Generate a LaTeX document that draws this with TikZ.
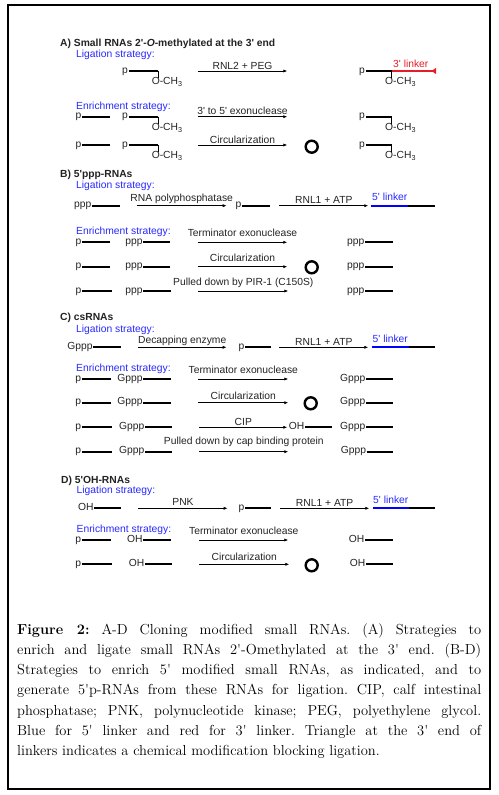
\documentclass[tikz,border=0pt]{standalone}
\usepackage{fontspec}
\setsansfont{Liberation Sans}[Ligatures=TeXOff]
\usetikzlibrary{arrows.meta}

\definecolor{ligblue}{RGB}{40,40,255}
\definecolor{linkred}{RGB}{228,30,40}
\definecolor{ink}{RGB}{35,35,35}

\begin{document}
\begin{tikzpicture}[x=1pt, y=-1pt,
    font=\sffamily\fontsize{10.3}{12}\selectfont, text=ink,
    strand/.style={line width=2.2pt},
    tick/.style={line width=0.8pt},
    rxn/.style={-{Latex[length=4pt,width=3.2pt]}, line width=0.8pt},
    lab/.style={midway, anchor=base, inner sep=0pt},
    tag/.style={anchor=east, inner sep=0.5pt, text height=6pt, text depth=1.5pt},
    meth/.style={anchor=north west, inner sep=0pt},
    head/.style={anchor=base west, inner sep=0pt, font=\sffamily\bfseries\fontsize{10.3}{12}\selectfont},
    hint/.style={anchor=base west, inner sep=0pt, text=ligblue},
    ring/.style={circle, draw, line width=2.4pt, minimum size=12pt, inner sep=0pt}]

    \useasboundingbox (0,0) rectangle (498,795);
    \draw[line width=1.3pt] (8,5) rectangle (490,789);

    % A) 2'-O-methylated
    \node[head] (headA) at (60,46.6) {A) Small RNAs 2'-\textit{O}-methylated at the 3' end};
    \node[hint] (ligA) at (76,57.2) {Ligation strategy:};

    \node[tag] (a1in) at (128.5,71) {p};
    \coordinate (a1e) at (158.3,71);
    \node[meth] (a1m) at (151.6,77.5) {O-CH\textsubscript{3}};
    \draw[strand] (a1in) -- (a1e);
    \draw[tick] (a1e) -- (a1e |- a1m.north);
    \coordinate (a1s) at (197.7,71);
    \coordinate (a1t) at (287.3,71);
    \draw[rxn] (a1s) -- (a1t) node[lab, yshift=1.7pt] {RNL2 + PEG};
    \node[tag] (a1out) at (365.5,71) {p};
    \coordinate (a1j) at (391.7,71);
    \coordinate (a1k) at (436,71);
    \node[meth] (a1n) at (385,77.5) {O-CH\textsubscript{3}};
    \draw[strand] (a1out) -- (a1j);
    \draw[strand, draw=linkred, -{Latex[reversed, length=5.5pt, width=6.5pt]}] (a1j) -- (a1k);
    \draw[tick] (a1j) -- (a1j |- a1n.north);
    \node[anchor=base west, inner sep=0pt, text=linkred] (a1lk) at (393,67.7) {3' linker};

    \node[hint] (enrA) at (76,109.5) {Enrichment strategy:};

    \node[tag] (a2p) at (82,116.7) {p};
    \coordinate (a2pe) at (110,116.7);
    \draw[strand] (a2p) -- (a2pe);
    \node[tag] (a2in) at (128.5,116.7) {p};
    \coordinate (a2e) at (158.3,116.7);
    \node[meth] (a2m) at (151.6,123.5) {O-CH\textsubscript{3}};
    \draw[strand] (a2in) -- (a2e);
    \draw[tick] (a2e) -- (a2e |- a2m.north);
    \coordinate (a2s) at (197.7,116.7);
    \coordinate (a2t) at (287.3,116.7);
    \draw[rxn] (a2s) -- (a2t) node[lab, yshift=2.7pt] {3' to 5' exonuclease};
    \node[tag] (a2out) at (365.5,116.7) {p};
    \coordinate (a2j) at (391.7,116.7);
    \node[meth] (a2n) at (385,123.5) {O-CH\textsubscript{3}};
    \draw[strand] (a2out) -- (a2j);
    \draw[tick] (a2j) -- (a2j |- a2n.north);

    \node[tag] (a3p) at (82,145) {p};
    \coordinate (a3pe) at (110,145);
    \draw[strand] (a3p) -- (a3pe);
    \node[tag] (a3in) at (128.5,145) {p};
    \coordinate (a3e) at (158.3,145);
    \node[meth] (a3m) at (151.6,151.5) {O-CH\textsubscript{3}};
    \draw[strand] (a3in) -- (a3e);
    \draw[tick] (a3e) -- (a3e |- a3m.north);
    \coordinate (a3s) at (197.7,145);
    \coordinate (a3t) at (287.3,145);
    \draw[rxn] (a3s) -- (a3t) node[lab, yshift=1.3pt] {Circularization};
    \node[ring] (a3o) at (311.7,146.7) {};
    \node[tag] (a3out) at (365.5,145) {p};
    \coordinate (a3j) at (391.7,145);
    \node[meth] (a3n) at (385,151.5) {O-CH\textsubscript{3}};
    \draw[strand] (a3out) -- (a3j);
    \draw[tick] (a3j) -- (a3j |- a3n.north);

    % B) 5'ppp
    \node[head] (headB) at (60,177.2) {B) 5'ppp-RNAs};
    \node[hint] (ligB) at (76,188.2) {Ligation strategy:};

    \node[tag] (b1in) at (92,205.7) {ppp};
    \coordinate (b1e) at (120,205.7);
    \draw[strand] (b1in) -- (b1e);
    \coordinate (b1s) at (136.7,205.7);
    \coordinate (b1t) at (226.7,205.7);
    \draw[rxn] (b1s) -- (b1t) node[lab, yshift=4pt] {RNA polyphosphatase};
    \node[tag] (b1mid) at (242,205.7) {p};
    \coordinate (b1f) at (270,205.7);
    \draw[strand] (b1mid) -- (b1f);
    \coordinate (b1u) at (279.3,205.7);
    \coordinate (b1v) at (368.3,205.7);
    \draw[rxn] (b1u) -- (b1v) node[lab, yshift=2.4pt] {RNL1 + ATP};
    \coordinate (b1j) at (371,205.7);
    \coordinate (b1k) at (408.3,205.7);
    \coordinate (b1l) at (435,205.7);
    \draw[strand, draw=blue] (b1j) -- (b1k);
    \draw[strand] (b1k) -- (b1l);
    \node[hint] (b1lk) at (372,200.7) {5' linker};

    \node[hint] (enrB) at (76,234.6) {Enrichment strategy:};

    \node[tag] (b2p) at (82,242.3) {p};
    \coordinate (b2pe) at (110,242.3);
    \draw[strand] (b2p) -- (b2pe);
    \node[tag] (b2in) at (143.3,242.3) {ppp};
    \coordinate (b2e) at (170,242.3);
    \draw[strand] (b2in) -- (b2e);
    \coordinate (b2s) at (197.7,242.3);
    \coordinate (b2t) at (287.3,242.3);
    \draw[rxn] (b2s) -- (b2t) node[lab, yshift=6pt] {Terminator exonuclease};
    \node[tag] (b2out) at (365,242.3) {ppp};
    \coordinate (b2oe) at (392.7,242.3);
    \draw[strand] (b2out) -- (b2oe);

    \node[tag] (b3p) at (82,266.7) {p};
    \coordinate (b3pe) at (110,266.7);
    \draw[strand] (b3p) -- (b3pe);
    \node[tag] (b3in) at (143.3,266.7) {ppp};
    \coordinate (b3e) at (170,266.7);
    \draw[strand] (b3in) -- (b3e);
    \coordinate (b3s) at (197.7,266.7);
    \coordinate (b3t) at (287.3,266.7);
    \draw[rxn] (b3s) -- (b3t) node[lab, yshift=5pt] {Circularization};
    \node[ring] (b3o) at (311.7,267.3) {};
    \node[tag] (b3out) at (365,266.7) {ppp};
    \coordinate (b3oe) at (392.7,266.7);
    \draw[strand] (b3out) -- (b3oe);

    \node[tag] (b4p) at (82,291) {p};
    \coordinate (b4pe) at (111.7,291);
    \draw[strand] (b4p) -- (b4pe);
    \node[tag] (b4in) at (143.3,291) {ppp};
    \coordinate (b4e) at (170.7,291);
    \draw[strand] (b4in) -- (b4e);
    \coordinate (b4s) at (198.3,291);
    \coordinate (b4t) at (288.3,291);
    \draw[rxn] (b4s) -- (b4t) node[lab, yshift=5.3pt] {Pulled down by PIR-1 (C150S)};
    \node[tag] (b4out) at (365,291) {ppp};
    \coordinate (b4oe) at (393.3,291);
    \draw[strand] (b4out) -- (b4oe);

    % C) csRNAs
    \node[head] (headC) at (60,320.5) {C) csRNAs};
    \node[hint] (ligC) at (76,332.2) {Ligation strategy:};

    \node[tag] (c1in) at (93.3,347.3) {Gppp};
    \coordinate (c1e) at (120.7,347.3);
    \draw[strand] (c1in) -- (c1e);
    \coordinate (c1s) at (137.7,347.3);
    \coordinate (c1t) at (226.7,347.3);
    \draw[rxn] (c1s) -- (c1t) node[lab, yshift=4pt] {Decapping enzyme};
    \node[tag] (c1mid) at (245,347.3) {p};
    \coordinate (c1f) at (270.7,347.3);
    \draw[strand] (c1mid) -- (c1f);
    \coordinate (c1u) at (279.3,347.3);
    \coordinate (c1v) at (368.3,347.3);
    \draw[rxn] (c1u) -- (c1v) node[lab, yshift=2pt] {RNL1 + ATP};
    \coordinate (c1j) at (371.7,347.3);
    \coordinate (c1k) at (409.3,347.3);
    \coordinate (c1l) at (435,347.3);
    \draw[strand, draw=blue] (c1j) -- (c1k);
    \draw[strand] (c1k) -- (c1l);
    \node[hint] (c1lk) at (372.5,342.3) {5' linker};

    \node[hint] (enrC) at (76,371.7) {Enrichment strategy:};

    \node[tag] (c2p) at (81.7,379) {p};
    \coordinate (c2pe) at (111,379);
    \draw[strand] (c2p) -- (c2pe);
    \node[tag] (c2in) at (143.3,379) {Gppp};
    \coordinate (c2e) at (170.7,379);
    \draw[strand] (c2in) -- (c2e);
    \coordinate (c2s) at (198.3,379);
    \coordinate (c2t) at (288.3,379);
    \draw[rxn] (c2s) -- (c2t) node[lab, yshift=5.7pt] {Terminator exonuclease};
    \node[tag] (c2out) at (366,379) {Gppp};
    \coordinate (c2oe) at (392.7,379);
    \draw[strand] (c2out) -- (c2oe);

    \node[tag] (c3p) at (81.7,402.7) {p};
    \coordinate (c3pe) at (111,402.7);
    \draw[strand] (c3p) -- (c3pe);
    \node[tag] (c3in) at (143.3,402.7) {Gppp};
    \coordinate (c3e) at (170.7,402.7);
    \draw[strand] (c3in) -- (c3e);
    \coordinate (c3s) at (198.3,402.7);
    \coordinate (c3t) at (288.3,402.7);
    \draw[rxn] (c3s) -- (c3t) node[lab, yshift=3.6pt] {Circularization};
    \node[ring] (c3o) at (310.7,403.3) {};
    \node[tag] (c3out) at (366,402.7) {Gppp};
    \coordinate (c3oe) at (392.7,402.7);
    \draw[strand] (c3out) -- (c3oe);

    \node[tag] (c4p) at (81.7,427.3) {p};
    \coordinate (c4pe) at (111.7,427.3);
    \draw[strand] (c4p) -- (c4pe);
    \node[tag] (c4in) at (145,427.3) {Gppp};
    \coordinate (c4e) at (171.7,427.3);
    \draw[strand] (c4in) -- (c4e);
    \coordinate (c4s) at (199.3,427.3);
    \coordinate (c4t) at (287.3,427.3);
    \draw[rxn] (c4s) -- (c4t) node[lab, yshift=1.8pt] {CIP};
    \node[tag] (c4oh) at (305,427.3) {OH};
    \coordinate (c4he) at (332.3,427.3);
    \draw[strand] (c4oh) -- (c4he);
    \node[tag] (c4out) at (366,427.3) {Gppp};
    \coordinate (c4oe) at (393.3,427.3);
    \draw[strand] (c4out) -- (c4oe);

    \node[tag] (c5p) at (81.7,451.7) {p};
    \coordinate (c5pe) at (111.7,451.7);
    \draw[strand] (c5p) -- (c5pe);
    \node[tag] (c5in) at (145,451.7) {Gppp};
    \coordinate (c5e) at (171.7,451.7);
    \draw[strand] (c5in) -- (c5e);
    \coordinate (c5s) at (199.3,451.7);
    \coordinate (c5t) at (288.3,451.7);
    \draw[rxn] (c5s) -- (c5t) node[lab, yshift=7.2pt] {Pulled down by cap binding protein};
    \node[tag] (c5out) at (366.7,451.7) {Gppp};
    \coordinate (c5oe) at (393.3,451.7);
    \draw[strand] (c5out) -- (c5oe);

    % D) 5'OH
    \node[head] (headD) at (61,483.2) {D) 5'OH-RNAs};
    \node[hint] (ligD) at (76.5,493.9) {Ligation strategy:};

    \node[tag] (d1in) at (94.3,508.3) {OH};
    \coordinate (d1e) at (121,508.3);
    \draw[strand] (d1in) -- (d1e);
    \coordinate (d1s) at (138.3,508.3);
    \coordinate (d1t) at (227.7,508.3);
    \draw[rxn] (d1s) -- (d1t) node[lab, yshift=3.3pt] {PNK};
    \node[tag] (d1mid) at (245,508.3) {p};
    \coordinate (d1f) at (270.7,508.3);
    \draw[strand] (d1mid) -- (d1f);
    \coordinate (d1u) at (280,508.3);
    \coordinate (d1v) at (369.3,508.3);
    \draw[rxn] (d1u) -- (d1v) node[lab, yshift=1.7pt] {RNL1 + ATP};
    \coordinate (d1j) at (372.7,508.3);
    \coordinate (d1k) at (409.3,508.3);
    \coordinate (d1l) at (435,508.3);
    \draw[strand, draw=blue] (d1j) -- (d1k);
    \draw[strand] (d1k) -- (d1l);
    \node[hint] (d1lk) at (373,503.3) {5' linker};

    \node[hint] (enrD) at (76.5,532.8) {Enrichment strategy:};

    \node[tag] (d2p) at (81.7,540) {p};
    \coordinate (d2pe) at (111,540);
    \draw[strand] (d2p) -- (d2pe);
    \node[tag] (d2in) at (143.3,540) {OH};
    \coordinate (d2e) at (171,540);
    \draw[strand] (d2in) -- (d2e);
    \coordinate (d2s) at (199.3,540);
    \coordinate (d2t) at (288.3,540);
    \draw[rxn] (d2s) -- (d2t) node[lab, yshift=5.7pt] {Terminator exonuclease};
    \node[tag] (d2out) at (365,540) {OH};
    \coordinate (d2oe) at (392.7,540);
    \draw[strand] (d2out) -- (d2oe);

    \node[tag] (d3p) at (81.7,564.3) {p};
    \coordinate (d3pe) at (111.7,564.3);
    \draw[strand] (d3p) -- (d3pe);
    \node[tag] (d3in) at (145,564.3) {OH};
    \coordinate (d3e) at (171.7,564.3);
    \draw[strand] (d3in) -- (d3e);
    \coordinate (d3s) at (199.3,564.3);
    \coordinate (d3t) at (289.3,564.3);
    \draw[rxn] (d3s) -- (d3t) node[lab, yshift=4.3pt] {Circularization};
    \node[ring] (d3o) at (311.7,565.3) {};
    \node[tag] (d3out) at (366,564.3) {OH};
    \coordinate (d3oe) at (393.3,564.3);
    \draw[strand] (d3out) -- (d3oe);

    % caption
    \node[anchor=north west, inner sep=0pt, text width=464pt, align=justify, text=black,
          font=\rmfamily\fontsize{14.5}{20.3}\selectfont\frenchspacing] (caption) at (17,623)
      {\textbf{Figure 2:} A-D Cloning modified small RNAs. (A) Strategies to\linebreak
       enrich and ligate small RNAs 2\textquotesingle-Omethylated at the 3\textquotesingle\ end. (B-D)\linebreak
       Strategies to enrich 5\textquotesingle\ modified small RNAs, as indicated, and to\linebreak
       generate 5\textquotesingle p-RNAs from these RNAs for ligation. CIP, calf intestinal\linebreak
       phosphatase; PNK, polynucleotide kinase; PEG, polyethylene glycol.\linebreak
       Blue for 5\textquotesingle\ linker and red for 3\textquotesingle\ linker. Triangle at the 3\textquotesingle\ end of\linebreak
       linkers indicates a chemical modification blocking ligation.\par};

\end{tikzpicture}
\end{document}
